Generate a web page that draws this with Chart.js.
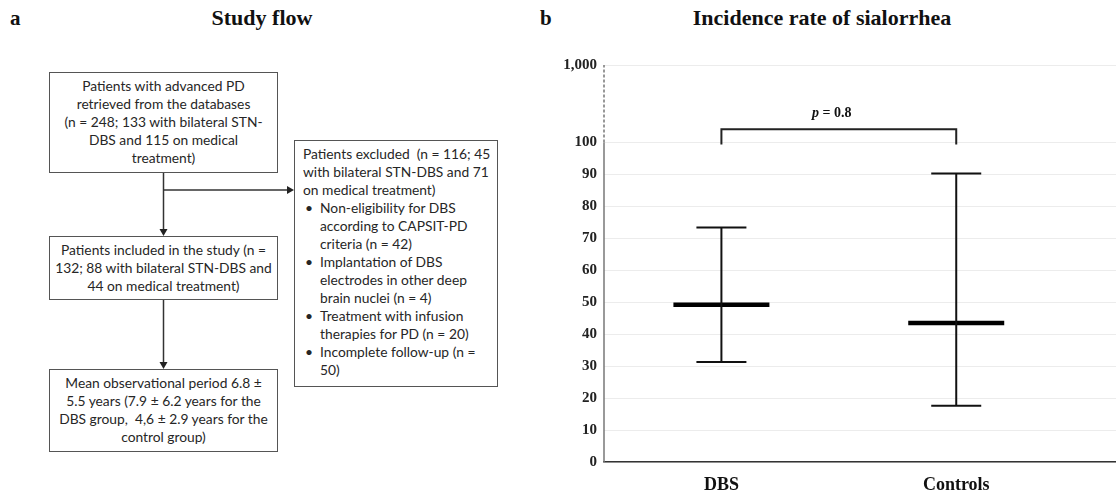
<!DOCTYPE html>
<html>
<head>
<meta charset="utf-8">
<script src="https://cdn.jsdelivr.net/npm/chart.js@4"></script>
<style>
  html, body { margin: 0; padding: 0; overflow: hidden; background: #fff; }
  body { width: 1116px; height: 496px; position: relative; }
  .panel-letter { position: absolute; font: bold 21px "Liberation Serif", "Times New Roman", serif; color: #111; }
  .panel-title { position: absolute; font: bold 22px "Liberation Serif", "Times New Roman", serif; color: #111; text-align: center; white-space: nowrap; }
  .box { position: absolute; box-sizing: border-box; border: 1.5px solid #555; background: #fff;
         font: 13.8px Lato, "Open Sans", sans-serif; line-height: 18px; color: #262626; padding-top: 4px; }
  .box.center { text-align: center; }
  .box ul { margin: 0; padding: 0 0 0 17px; list-style: none; }
  .box li { position: relative; }
  .box li::before { content: "\2022"; position: absolute; left: -15px; }
  #flow { position: absolute; left: 0; top: 0; }
  #rateChart { position: absolute; left: 540px; top: 0; }
</style>
</head>
<body>

<div class="panel-letter" style="left:10px; top:6px;">a</div>
<div class="panel-title" style="left:162px; top:5px; width:200px;">Study flow</div>
<div class="panel-letter" style="left:540px; top:6px;">b</div>
<div class="panel-title" style="left:672px; top:5px; width:300px;">Incidence rate of sialorrhea</div>

<svg id="flow" width="540" height="496">
  <g stroke="#333" stroke-width="1.5" fill="none">
    <line x1="163.5" y1="173" x2="163.5" y2="229"/>
    <line x1="163.5" y1="190" x2="287" y2="190"/>
    <line x1="163.5" y1="300" x2="163.5" y2="362"/>
  </g>
  <g fill="#222">
    <polygon points="159.5,229 167.5,229 163.5,236"/>
    <polygon points="287,186 287,194 294,190"/>
    <polygon points="159.5,362 167.5,362 163.5,369"/>
  </g>
</svg>

<div class="box center" style="left:49px; top:72px; width:229px; height:101px;">
  Patients with advanced PD<br>retrieved from the databases<br>(n = 248; 133 with bilateral STN-<br>DBS and 115 on medical<br>treatment)
</div>
<div class="box center" style="left:49px; top:236px; width:229px; height:64px;">
  Patients included in the study (n =<br>132; 88 with bilateral STN-DBS and<br>44 on medical treatment)
</div>
<div class="box center" style="left:49px; top:369px; width:229px; height:83px;">
  Mean observational period 6.8 ±<br>5.5 years (7.9 ± 6.2 years for the<br>DBS group,&nbsp; 4,6 ± 2.9 years for the<br>control group)
</div>
<div class="box" style="left:294px; top:140px; width:204px; height:247px; padding-left:8px;">
  Patients excluded&nbsp; (n = 116; 45<br>with bilateral STN-DBS and 71<br>on medical treatment)
  <ul>
    <li>Non-eligibility for DBS<br>according to CAPSIT-PD<br>criteria (n = 42)</li>
    <li>Implantation of DBS<br>electrodes in other deep<br>brain nuclei (n = 4)</li>
    <li>Treatment with infusion<br>therapies for PD (n = 20)</li>
    <li>Incomplete follow-up (n =<br>50)</li>
  </ul>
</div>

<canvas id="rateChart" width="600" height="496"></canvas>

<script>
// groups on the x axis
const groups = ['DBS', 'Controls'];
const groupX = [1, 2];

// incidence rate (per 1,000) with confidence limits
const meanRate = [49.2, 43.5];
const lowerLimit = [31.3, 17.6];
const upperLimit = [73.4, 90.3];

// broken y axis: 0-100 linear, then a compressed step up to 1,000
const yTickValues = [0, 10, 20, 30, 40, 50, 60, 70, 80, 90, 100, 124.3];
const yTickLabels = ['0', '10', '20', '30', '40', '50', '60', '70', '80', '90', '100', '1,000'];
const axisBreak = 100;

// significance bracket between the groups
const bracketX = [1, 1, 2, 2];
const bracketY = [99.4, 104.2, 104.2, 99.4];
const pLabel = 'p = 0.8';

const serif = '"Liberation Serif", "Times New Roman", serif';

// draws the y axis line: solid below the break, dashed above it
const brokenAxisPlugin = {
    id: 'brokenAxis',
    afterDraw(chart) {
        const { ctx, chartArea, scales } = chart;
        const x = chartArea.left;
        const yBreak = scales.y.getPixelForValue(axisBreak);
        ctx.save();
        ctx.strokeStyle = '#777';
        ctx.lineWidth = 1.5;
        ctx.beginPath();
        ctx.moveTo(x, scales.y.getPixelForValue(0));
        ctx.lineTo(x, yBreak);
        ctx.stroke();
        ctx.setLineDash([3, 2]);
        ctx.beginPath();
        ctx.moveTo(x, yBreak);
        ctx.lineTo(x, chartArea.top);
        ctx.stroke();
        ctx.restore();
    }
};

// p value text above the bracket
const pValuePlugin = {
    id: 'pValue',
    afterDatasetsDraw(chart) {
        const { ctx, scales } = chart;
        const xMid = (scales.x.getPixelForValue(bracketX[0]) + scales.x.getPixelForValue(bracketX[3])) / 2 - 7;
        const y = scales.y.getPixelForValue(Math.max(...bracketY)) - 16;
        const [pPart, rest] = [pLabel.slice(0, 1), pLabel.slice(1)];
        ctx.save();
        ctx.fillStyle = '#111';
        ctx.textBaseline = 'middle';
        ctx.font = 'italic bold 14px ' + serif;
        const wP = ctx.measureText(pPart).width;
        ctx.font = 'bold 14px ' + serif;
        const wR = ctx.measureText(rest).width;
        const x0 = xMid - (wP + wR) / 2;
        ctx.font = 'italic bold 14px ' + serif;
        ctx.fillText(pPart, x0, y);
        ctx.font = 'bold 14px ' + serif;
        ctx.fillText(rest, x0 + wP, y);
        ctx.restore();
    }
};

function pointsAt(values) {
    return groupX.map((x, i) => ({ x: x, y: values[i] }));
}

const datasets = [];

// vertical whiskers
groupX.forEach((x, i) => {
    datasets.push({
        label: groups[i] + ' range',
        type: 'line',
        data: [{ x: x, y: lowerLimit[i] }, { x: x, y: upperLimit[i] }],
        borderColor: '#111',
        borderWidth: 2,
        pointRadius: 0
    });
});

// caps
[upperLimit, lowerLimit].forEach((vals, k) => {
    datasets.push({
        label: k === 0 ? 'Upper limit' : 'Lower limit',
        type: 'line',
        data: pointsAt(vals),
        showLine: false,
        pointStyle: 'line',
        pointRadius: 25,
        pointHoverRadius: 25,
        pointBorderWidth: 2,
        pointBorderColor: '#111'
    });
});

// mean
datasets.push({
    label: 'Incidence rate',
    type: 'line',
    data: pointsAt(meanRate),
    showLine: false,
    pointStyle: 'line',
    pointRadius: 48,
    pointHoverRadius: 48,
    pointBorderWidth: 4.5,
    pointBorderColor: '#000'
});

// bracket
datasets.push({
    label: 'Comparison',
    type: 'line',
    data: bracketX.map((x, i) => ({ x: x, y: bracketY[i] })),
    borderColor: '#222',
    borderWidth: 2,
    borderJoinStyle: 'miter',
    pointRadius: 0,
    clip: false
});

new Chart(document.getElementById('rateChart'), {
    type: 'line',
    data: { datasets: datasets },
    options: {
        responsive: false,
        animation: false,
        events: [],
        layout: { autoPadding: false, padding: { top: 65, right: 10, left: 0, bottom: 0 } },
        plugins: {
            legend: { display: false },
            tooltip: { enabled: false },
            title: { display: false }
        },
        scales: {
            x: {
                type: 'linear',
                min: 0.5,
                max: 2.74,
                afterBuildTicks: s => { s.ticks = groupX.map(v => ({ value: v })); },
                afterFit: s => { s.height = 34; },
                ticks: {
                    callback: v => groups[groupX.indexOf(v)] || '',
                    font: { family: serif, size: 18, weight: 'bold' },
                    color: '#111',
                    padding: 13,
                    maxRotation: 0
                },
                grid: { display: false, drawTicks: false },
                border: { color: '#333', width: 1.5 }
            },
            y: {
                type: 'linear',
                min: 0,
                max: yTickValues[yTickValues.length - 1],
                afterBuildTicks: s => { s.ticks = yTickValues.map(v => ({ value: v })); },
                afterFit: s => { s.width = 64; },
                ticks: {
                    callback: v => yTickLabels[yTickValues.indexOf(v)],
                    font: { family: serif, size: 15, weight: 'bold' },
                    color: '#222',
                    padding: 7
                },
                grid: { color: '#ececec', lineWidth: 1, drawTicks: false },
                border: { display: false }
            }
        }
    },
    plugins: [brokenAxisPlugin, pValuePlugin]
});
</script>
</body>
</html>
